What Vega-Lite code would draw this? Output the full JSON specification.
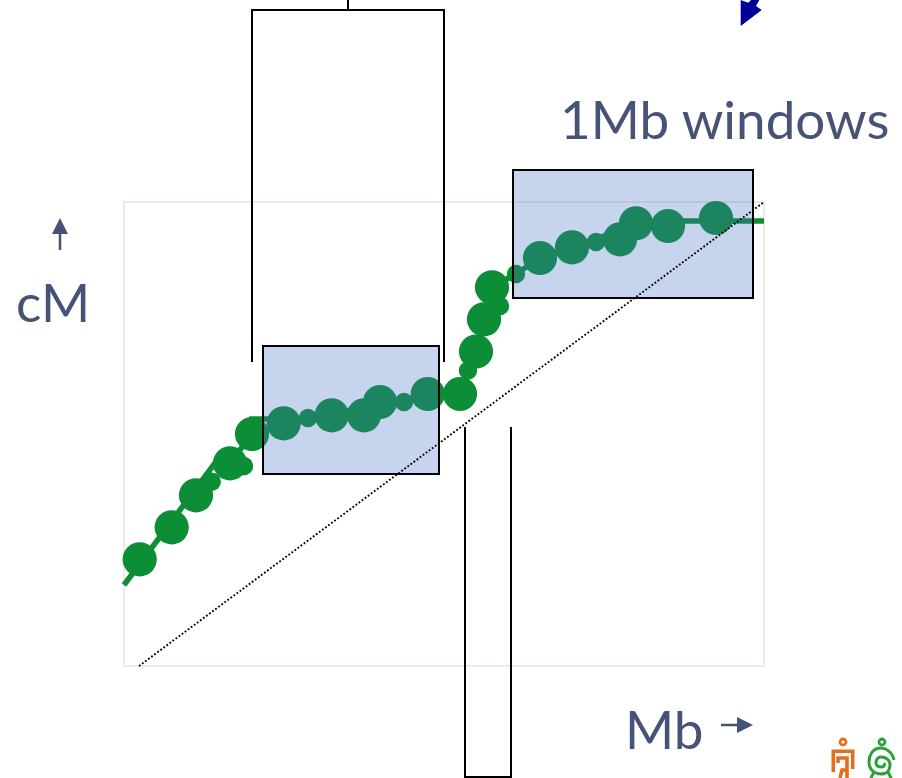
{
"$schema":"https://vega.github.io/schema/vega-lite/v6.json",
"width":902,"height":778,"autosize":{"type":"fit","contains":"padding"},"padding":0,
"background":"white",
"view":{"stroke":null},
"config":{"view":{"stroke":null}},
"datasets":{
"frame":[{"x":0,"x2":640,"y":0,"y2":464}],
"windows":[{"x":139,"x2":315,"y":192,"y2":320},{"x":389,"x2":629,"y":368,"y2":496}],
"trend":[{"s":1,"mb":0,"cm":81},{"s":2,"mb":91,"cm":203},{"s":3,"mb":106,"cm":203},{"s":4,"mb":128,"cm":232},{"s":5,"mb":128,"cm":247},{"s":6,"mb":176,"cm":247},{"s":7,"mb":306,"cm":270},{"s":8,"mb":336,"cm":272},{"s":9,"mb":352,"cm":314},{"s":10,"mb":368,"cm":379},{"s":11,"mb":392,"cm":392},{"s":12,"mb":416,"cm":408},{"s":13,"mb":512,"cm":441},{"s":14,"mb":544,"cm":445},{"s":15,"mb":640,"cm":445}],
"snps":[
{"mb":15.7,"cm":106.7,"k":"big"},{"mb":47.7,"cm":138.7,"k":"big"},{"mb":72,"cm":170.7,"k":"big"},{"mb":87.7,"cm":184.3,"k":"small"},{"mb":106,"cm":202.7,"k":"big"},{"mb":120,"cm":200,"k":"small"},{"mb":128,"cm":232,"k":"big"},{"mb":159.7,"cm":242.7,"k":"big"},{"mb":184,"cm":248,"k":"small"},{"mb":207.7,"cm":250.7,"k":"big"},{"mb":240,"cm":250.7,"k":"big"},{"mb":256,"cm":264,"k":"big"},{"mb":280,"cm":264,"k":"small"},{"mb":303.7,"cm":272,"k":"big"},{"mb":336,"cm":272,"k":"big"},{"mb":344,"cm":295.5,"k":"small"},{"mb":352,"cm":314.5,"k":"big"},{"mb":360,"cm":346.7,"k":"big"},{"mb":376,"cm":360,"k":"small"},{"mb":368,"cm":378.7,"k":"big"},{"mb":392,"cm":392,"k":"small"},{"mb":416,"cm":408,"k":"big"},{"mb":448,"cm":418.7,"k":"big"},{"mb":472,"cm":424,"k":"small"},{"mb":496,"cm":426.7,"k":"big"},{"mb":512,"cm":442.7,"k":"big"},{"mb":544,"cm":440,"k":"big"},{"mb":592,"cm":448,"k":"big"}],
"diag":[{"s":1,"mb":15,"cm":0},{"s":2,"mb":640,"cm":464}],
"brackets":[
{"p":"top","s":1,"mb":128,"cm":304},{"p":"top","s":2,"mb":128,"cm":656},{"p":"top","s":3,"mb":320,"cm":656},{"p":"top","s":4,"mb":320,"cm":304},
{"p":"stem","s":1,"mb":224,"cm":656},{"p":"stem","s":2,"mb":224,"cm":670},
{"p":"low","s":1,"mb":341,"cm":239},{"p":"low","s":2,"mb":341,"cm":-111},{"p":"low","s":3,"mb":387,"cm":-111},{"p":"low","s":4,"mb":387,"cm":239}],
"shafts":[{"p":"up","s":1,"mb":-64,"cm":416},{"p":"up","s":2,"mb":-64,"cm":436},{"p":"right","s":1,"mb":597,"cm":-59},{"p":"right","s":2,"mb":615,"cm":-59}],
"labels":[{"t":"1Mb windows","mb":436,"cm":527},{"t":"cM","mb":-108,"cm":344},{"t":"Mb","mb":501,"cm":-83}]
},
"encoding":{
"x":{"type":"quantitative","scale":{"domain":[-124,778],"nice":false,"zero":false},"axis":null},
"y":{"type":"quantitative","scale":{"domain":[-112,666],"nice":false,"zero":false},"axis":null}
},
"layer":[
{"data":{"name":"frame"},"mark":{"type":"rect","fill":null,"stroke":"#EEECE1","strokeWidth":2},
 "encoding":{"x":{"field":"x","type":"quantitative"},"x2":{"field":"x2"},"y":{"field":"y","type":"quantitative"},"y2":{"field":"y2"}}},
{"data":{"name":"trend"},"mark":{"type":"line","stroke":"#0B8E36","strokeWidth":5.5,"strokeJoin":"miter","clip":true},
 "encoding":{"x":{"field":"mb","type":"quantitative"},"y":{"field":"cm","type":"quantitative"},"order":{"field":"s"}}},
{"data":{"name":"snps"},"transform":[{"filter":"datum.k==='big'"}],"mark":{"type":"point","shape":"circle","filled":true,"color":"#0B8E36","opacity":1,"size":1170,"strokeWidth":0},
 "encoding":{"x":{"field":"mb","type":"quantitative"},"y":{"field":"cm","type":"quantitative"}}},
{"data":{"name":"snps"},"transform":[{"filter":"datum.k==='small'"}],"mark":{"type":"point","shape":"circle","filled":true,"color":"#0B8E36","opacity":1,"size":340,"strokeWidth":0},
 "encoding":{"x":{"field":"mb","type":"quantitative"},"y":{"field":"cm","type":"quantitative"}}},
{"data":{"name":"windows"},"mark":{"type":"rect","fill":"#4472C4","fillOpacity":0.3,"stroke":"#000000","strokeWidth":2},
 "encoding":{"x":{"field":"x","type":"quantitative"},"x2":{"field":"x2"},"y":{"field":"y","type":"quantitative"},"y2":{"field":"y2"}}},
{"data":{"name":"diag"},"mark":{"type":"line","stroke":"#000000","strokeWidth":1.9,"strokeDash":[1.8,2]},
 "encoding":{"x":{"field":"mb","type":"quantitative"},"y":{"field":"cm","type":"quantitative"},"order":{"field":"s"}}},
{"data":{"name":"brackets"},"mark":{"type":"line","stroke":"#000000","strokeWidth":2,"strokeJoin":"miter","clip":true},
 "encoding":{"x":{"field":"mb","type":"quantitative"},"y":{"field":"cm","type":"quantitative"},"detail":{"field":"p"},"order":{"field":"s"}}},
{"data":{"name":"shafts"},"mark":{"type":"line","stroke":"#475277","strokeWidth":2.5},
 "encoding":{"x":{"field":"mb","type":"quantitative"},"y":{"field":"cm","type":"quantitative"},"detail":{"field":"p"},"order":{"field":"s"}}},
{"data":{"values":[{"mb":-64,"cm":440}]},"mark":{"type":"point","shape":"M0,-0.8L0.8,0.8L-0.8,0.8Z","filled":true,"color":"#475277","opacity":1,"size":400,"strokeWidth":0},
 "encoding":{"x":{"field":"mb","type":"quantitative"},"y":{"field":"cm","type":"quantitative"}}},
{"data":{"values":[{"mb":621,"cm":-59}]},"mark":{"type":"point","shape":"M0.8,0L-0.8,-0.8L-0.8,0.8Z","filled":true,"color":"#475277","opacity":1,"size":400,"strokeWidth":0},
 "encoding":{"x":{"field":"mb","type":"quantitative"},"y":{"field":"cm","type":"quantitative"}}},
{"data":{"values":[{"mb":626,"cm":656}]},"mark":{"type":"point","clip":true,"shape":"M-0.93,-1L-0.17,-0.73L0.3,-1.2L0.93,-1L0.6,-0.4L1.17,0L-0.93,1.6Z","filled":true,"color":"#000099","opacity":1,"size":400,"strokeWidth":0},
 "encoding":{"x":{"field":"mb","type":"quantitative"},"y":{"field":"cm","type":"quantitative"}}},
{"data":{"values":[{"mb":719,"cm":-76},{"mb":758,"cm":-76}]},"mark":{"type":"point","shape":"circle","filled":false,"opacity":1,"size":36,"strokeWidth":2.8},
 "encoding":{"x":{"field":"mb","type":"quantitative"},"y":{"field":"cm","type":"quantitative"},"color":{"field":"mb","type":"nominal","scale":{"domain":[719,758],"range":["#E36F1E","#2DA03C"]},"legend":null}}},
{"data":{"values":[{"mb":719,"cm":-94}]},"mark":{"type":"point","clip":true,"shape":"M-0.97,1.2L-0.97,-0.87L0.97,-0.87L0.97,0.9M-0.5,0.3L-0.5,-0.2L0.4,-0.2L0.4,1.8M-0.3,1.8L-0.1,1L0.4,1","filled":false,"color":"#E36F1E","opacity":1,"size":400,"strokeWidth":3.6},
 "encoding":{"x":{"field":"mb","type":"quantitative"},"y":{"field":"cm","type":"quantitative"}}},
{"data":{"values":[{"mb":757,"cm":-96}]},"mark":{"type":"point","clip":true,"shape":"M1.3,-0.2C1.1,-1.1 0.4,-1.4 0,-1.4C-0.9,-1.4 -1.2,-0.6 -1.2,0C-1.2,0.8 -0.6,1.2 0,1.2C0.6,1.2 0.9,0.8 0.9,0.3C0.9,-0.2 0.5,-0.5 0,-0.5C-0.4,-0.5 -0.5,-0.1 -0.5,0.1C-0.5,0.4 -0.2,0.5 0.1,0.5C0.3,0.5 0.4,0.3 0.3,0.1M-0.7,1L-1.1,1.8M0.7,1L1.1,1.8","filled":false,"color":"#2DA03C","opacity":1,"size":400,"strokeWidth":3},
 "encoding":{"x":{"field":"mb","type":"quantitative"},"y":{"field":"cm","type":"quantitative"}}},
{"data":{"name":"labels"},"mark":{"type":"text","font":"Lato","fontSize":53,"align":"left","baseline":"alphabetic","color":"#475277"},
 "encoding":{"x":{"field":"mb","type":"quantitative"},"y":{"field":"cm","type":"quantitative"},"text":{"field":"t"}}}
]
}
